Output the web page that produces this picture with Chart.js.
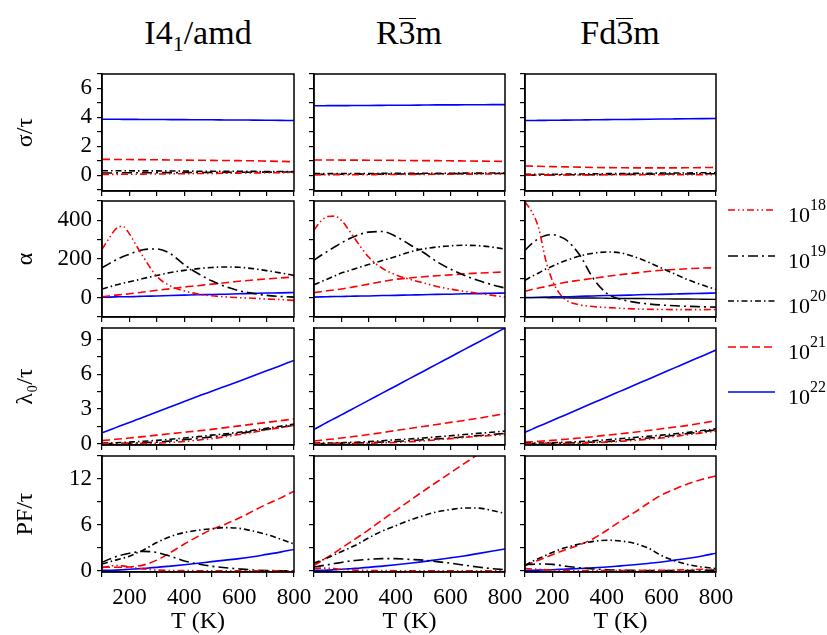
<!DOCTYPE html>
<html>
<head>
<meta charset="utf-8">
<script src="https://cdn.jsdelivr.net/npm/chart.js@4.4.1/dist/chart.umd.min.js"></script>
<style>
  html, body { margin: 0; padding: 0; background: #fff; }
  body {
    width: 827px; height: 635px; position: relative; overflow: hidden;
    font-family: "Liberation Serif", "DejaVu Serif", serif; color: #000;
  }
  canvas.panel { position: absolute; }
  .head {
    position: absolute; top: 16px; width: 240px; margin-left: -120px;
    text-align: center; font-size: 34px; line-height: 34px; white-space: nowrap;
  }
  .head sub { font-size: 22px; position: relative; top: 7px; vertical-align: baseline; }
  .bar { display: inline-block; line-height: 27px; border-top: 1.5px solid #000; }
  .key { position: absolute; left: 728px; height: 0; }
  .key canvas { position: absolute; left: 0; top: -5px; }
  .key span {
    position: absolute; left: 60px; top: -6px; font-size: 22px; line-height: 22px; white-space: nowrap;
  }
  .key sup { font-size: 16px; position: relative; top: -12px; vertical-align: baseline; }
</style>
</head>
<body>
<div class="head" style="left:198px">I4<sub>1</sub>/amd</div>
<div class="head" style="left:409px">R<span class="bar">3</span>m</div>
<div class="head" style="left:620px">Fd<span class="bar">3</span>m</div>

<script>
// temperature grid (K)
const temps = [100, 125, 150, 175, 200, 225, 250, 300, 350, 400, 450, 500, 550, 600, 650, 700, 750, 800];
// carrier concentration exponents, 10^18 ... 10^22 cm^-3
const dopingExp = ['18', '19', '20', '21', '22'];

// sigma/tau, one list per concentration
const sigmaI41 = [
  [0.05, 0.05, 0.05, 0.06, 0.06, 0.06, 0.07, 0.08, 0.09, 0.10, 0.11, 0.12, 0.13, 0.14, 0.15, 0.16, 0.17, 0.18],
  [0.15, 0.15, 0.15, 0.16, 0.16, 0.16, 0.16, 0.17, 0.17, 0.18, 0.18, 0.19, 0.19, 0.20, 0.20, 0.21, 0.21, 0.22],
  [0.30, 0.30, 0.30, 0.30, 0.30, 0.29, 0.29, 0.29, 0.28, 0.28, 0.27, 0.27, 0.27, 0.26, 0.26, 0.25, 0.25, 0.25],
  [1.09, 1.09, 1.08, 1.08, 1.08, 1.07, 1.07, 1.06, 1.05, 1.04, 1.03, 1.02, 1.01, 1.00, 0.99, 0.97, 0.95, 0.93],
  [3.87, 3.87, 3.87, 3.86, 3.86, 3.86, 3.85, 3.85, 3.84, 3.84, 3.83, 3.83, 3.82, 3.82, 3.81, 3.80, 3.79, 3.78]
];
const sigmaR3m = [
  [0.02, 0.02, 0.02, 0.02, 0.03, 0.03, 0.03, 0.03, 0.04, 0.04, 0.05, 0.05, 0.06, 0.06, 0.07, 0.07, 0.08, 0.08],
  [0.05, 0.05, 0.05, 0.06, 0.06, 0.06, 0.06, 0.07, 0.07, 0.08, 0.08, 0.09, 0.09, 0.10, 0.10, 0.11, 0.11, 0.12],
  [0.10, 0.10, 0.10, 0.10, 0.11, 0.11, 0.11, 0.11, 0.12, 0.12, 0.12, 0.13, 0.13, 0.13, 0.14, 0.14, 0.15, 0.15],
  [1.05, 1.05, 1.05, 1.05, 1.04, 1.04, 1.04, 1.03, 1.03, 1.02, 1.01, 1.00, 1.00, 0.99, 0.98, 0.97, 0.96, 0.95],
  [4.80, 4.80, 4.81, 4.81, 4.81, 4.81, 4.82, 4.82, 4.83, 4.84, 4.84, 4.85, 4.86, 4.86, 4.87, 4.87, 4.88, 4.88]
];
const sigmaFd3m = [
  [0.00, 0.00, 0.00, 0.00, 0.01, 0.01, 0.01, 0.01, 0.01, 0.02, 0.02, 0.02, 0.02, 0.02, 0.03, 0.03, 0.03, 0.03],
  [0.00, 0.00, 0.01, 0.01, 0.01, 0.02, 0.02, 0.03, 0.03, 0.04, 0.05, 0.05, 0.06, 0.07, 0.08, 0.08, 0.09, 0.10],
  [0.05, 0.05, 0.05, 0.06, 0.06, 0.06, 0.07, 0.08, 0.09, 0.10, 0.11, 0.12, 0.13, 0.14, 0.15, 0.15, 0.16, 0.17],
  [0.63, 0.62, 0.61, 0.60, 0.59, 0.58, 0.57, 0.55, 0.53, 0.52, 0.51, 0.50, 0.50, 0.50, 0.50, 0.51, 0.52, 0.54],
  [3.78, 3.78, 3.79, 3.79, 3.80, 3.80, 3.81, 3.82, 3.83, 3.84, 3.85, 3.86, 3.87, 3.88, 3.89, 3.90, 3.91, 3.92]
];

// Seebeck coefficient alpha (uV/K)
const alphaI41 = [
  [250, 305, 355, 370, 330, 270, 212, 110, 60, 35, 19, 10, 4, 0, -3, -7, -10, -14],
  [155, 175, 195, 212, 225, 238, 248, 252, 227, 170, 125, 87, 58, 36, 22, 12, 6, 3],
  [45, 55, 65, 74, 82, 90, 99, 115, 130, 141, 150, 156, 159, 157, 150, 140, 128, 115],
  [5, 9, 13, 17, 20, 24, 29, 38, 46, 55, 62, 70, 77, 85, 91, 97, 102, 107],
  [2, 3, 4, 5, 5, 6, 7, 9, 11, 13, 15, 16, 18, 20, 22, 24, 25, 27]
];
const alphaR3m = [
  [350, 395, 420, 422, 400, 355, 305, 210, 152, 118, 95, 77, 58, 44, 33, 23, 13, 3],
  [194, 218, 240, 262, 283, 302, 318, 339, 342, 317, 275, 235, 186, 148, 116, 90, 68, 50],
  [67, 82, 97, 112, 127, 138, 150, 171, 192, 213, 236, 252, 262, 268, 271, 269, 262, 251],
  [26, 31, 36, 40, 45, 51, 57, 70, 83, 95, 102, 108, 113, 118, 123, 127, 130, 133],
  [3, 4, 5, 6, 6, 7, 8, 9, 11, 12, 14, 15, 17, 18, 20, 21, 23, 24]
];
const alphaFd3m = [
  [495, 445, 360, 200, 90, 25, -12, -37, -46, -51, -55, -58, -60, -61, -62, -62, -62, -61],
  [245, 280, 305, 322, 326, 318, 300, 222, 100, 22, -8, -23, -32, -38, -42, -45, -47, -49],
  [90, 110, 128, 147, 163, 178, 192, 215, 230, 236, 232, 212, 185, 153, 122, 91, 65, 42],
  [33, 42, 50, 57, 65, 72, 80, 90, 100, 110, 119, 127, 135, 142, 146, 150, 153, 155],
  [0, 1, 2, 3, 4, 5, 5, 7, 9, 11, 12, 14, 16, 17, 19, 21, 22, 24]
];
// extra solid black trace just under zero in the Fd-3m alpha panel
const alphaFd3mBase = [0, 0, 0, 0, -1, -1, -1, -2, -2, -3, -4, -4, -5, -6, -7, -7, -8, -9];

// electronic thermal conductivity lambda0/tau
const lambdaI41 = [
  [0, 0, 0.01, 0.01, 0.02, 0.03, 0.04, 0.06, 0.12, 0.2, 0.32, 0.45, 0.62, 0.8, 1.0, 1.2, 1.4, 1.6],
  [0.02, 0.03, 0.03, 0.04, 0.05, 0.07, 0.1, 0.15, 0.25, 0.35, 0.47, 0.6, 0.75, 0.9, 1.07, 1.25, 1.42, 1.6],
  [0.05, 0.07, 0.09, 0.12, 0.15, 0.19, 0.22, 0.3, 0.4, 0.5, 0.62, 0.75, 0.87, 1.0, 1.17, 1.35, 1.52, 1.7],
  [0.28, 0.33, 0.39, 0.44, 0.5, 0.56, 0.62, 0.75, 0.88, 1.0, 1.12, 1.25, 1.4, 1.55, 1.7, 1.85, 2.0, 2.15],
  [0.95, 1.17, 1.4, 1.62, 1.85, 2.07, 2.3, 2.75, 3.2, 3.65, 4.1, 4.55, 4.97, 5.4, 5.85, 6.3, 6.75, 7.2]
];
const lambdaR3m = [
  [0, 0, 0.01, 0.01, 0.02, 0.02, 0.03, 0.05, 0.08, 0.12, 0.18, 0.25, 0.35, 0.45, 0.55, 0.65, 0.72, 0.8],
  [0.02, 0.02, 0.03, 0.04, 0.05, 0.06, 0.07, 0.1, 0.15, 0.2, 0.27, 0.35, 0.42, 0.5, 0.6, 0.7, 0.8, 0.9],
  [0.05, 0.06, 0.07, 0.08, 0.1, 0.12, 0.14, 0.2, 0.27, 0.35, 0.42, 0.5, 0.6, 0.7, 0.8, 0.9, 1.0, 1.1],
  [0.25, 0.31, 0.37, 0.43, 0.5, 0.57, 0.65, 0.8, 0.97, 1.15, 1.32, 1.5, 1.67, 1.85, 2.02, 2.2, 2.4, 2.6],
  [1.25, 1.56, 1.88, 2.19, 2.5, 2.81, 3.13, 3.75, 4.38, 5.0, 5.63, 6.25, 6.88, 7.5, 8.13, 8.75, 9.38, 10.0]
];
const lambdaFd3m = [
  [0, 0, 0, 0.01, 0.01, 0.02, 0.03, 0.05, 0.1, 0.15, 0.22, 0.3, 0.4, 0.5, 0.65, 0.8, 0.95, 1.1],
  [0.02, 0.02, 0.03, 0.04, 0.05, 0.06, 0.07, 0.1, 0.15, 0.2, 0.3, 0.4, 0.5, 0.6, 0.75, 0.9, 1.05, 1.2],
  [0.05, 0.06, 0.07, 0.08, 0.1, 0.12, 0.14, 0.2, 0.27, 0.35, 0.45, 0.55, 0.65, 0.75, 0.87, 1.0, 1.15, 1.3],
  [0.15, 0.18, 0.22, 0.26, 0.3, 0.35, 0.4, 0.5, 0.62, 0.75, 0.87, 1.0, 1.15, 1.3, 1.45, 1.6, 1.8, 2.0],
  [1.0, 1.25, 1.51, 1.76, 2.01, 2.27, 2.52, 3.03, 3.54, 4.04, 4.55, 5.06, 5.56, 6.07, 6.58, 7.09, 7.59, 8.1]
];

// power factor PF/tau
const pfI41 = [
  [0.4, 0.6, 0.7, 0.65, 0.5, 0.35, 0.25, 0.1, 0.05, 0.03, 0.02, 0.01, 0, 0, 0, 0, 0, 0],
  [1.1, 1.5, 1.85, 2.1, 2.3, 2.45, 2.55, 2.4, 1.9, 1.3, 0.9, 0.6, 0.4, 0.25, 0.12, 0.05, 0.02, 0],
  [0.9, 1.15, 1.4, 1.65, 1.9, 2.3, 2.7, 3.7, 4.5, 5.0, 5.3, 5.5, 5.65, 5.55, 5.2, 4.75, 4.15, 3.5],
  [0.5, 0.48, 0.47, 0.48, 0.5, 0.6, 0.75, 1.4, 2.4, 3.5, 4.5, 5.4, 6.1, 6.9, 7.8, 8.7, 9.5, 10.4],
  [0.05, 0.08, 0.1, 0.15, 0.2, 0.26, 0.32, 0.45, 0.62, 0.8, 1.0, 1.2, 1.4, 1.6, 1.85, 2.15, 2.45, 2.8]
];
const pfR3m = [
  [0.3, 0.35, 0.35, 0.3, 0.2, 0.15, 0.1, 0.05, 0.03, 0.02, 0.01, 0, 0, 0, 0, 0, 0, 0],
  [0.5, 0.65, 0.8, 0.95, 1.1, 1.25, 1.35, 1.5, 1.6, 1.6, 1.5, 1.4, 1.2, 1.0, 0.75, 0.5, 0.3, 0.15],
  [1.0, 1.35, 1.7, 2.1, 2.5, 2.9, 3.3, 4.3, 5.2, 5.9, 6.6, 7.2, 7.7, 8.0, 8.2, 8.2, 7.9, 7.5],
  [0.7, 1.25, 1.8, 2.35, 2.95, 3.55, 4.15, 5.35, 6.65, 7.9, 9.15, 10.4, 11.6, 12.8, 14.0, 15.2, 16.4, 17.6],
  [0.05, 0.08, 0.1, 0.15, 0.2, 0.26, 0.32, 0.45, 0.62, 0.8, 1.0, 1.2, 1.45, 1.7, 1.95, 2.25, 2.55, 2.85]
];
const pfFd3m = [
  [0.3, 0.25, 0.2, 0.15, 0.1, 0.08, 0.06, 0.05, 0.04, 0.04, 0.05, 0.05, 0.06, 0.08, 0.1, 0.15, 0.2, 0.2],
  [0.8, 0.85, 0.9, 0.9, 0.85, 0.75, 0.6, 0.4, 0.25, 0.15, 0.1, 0.06, 0.04, 0.03, 0.03, 0.05, 0.08, 0.1],
  [0.7, 1.2, 1.6, 2.0, 2.4, 2.75, 3.05, 3.5, 3.85, 4.0, 3.9, 3.6, 3.0, 2.0, 1.3, 0.8, 0.5, 0.3],
  [0.7, 1.05, 1.4, 1.75, 2.1, 2.45, 2.8, 3.4, 4.2, 5.3, 6.5, 7.6, 8.8, 9.9, 10.7, 11.4, 11.95, 12.4],
  [0.05, 0.07, 0.09, 0.12, 0.15, 0.19, 0.22, 0.3, 0.4, 0.5, 0.65, 0.8, 0.97, 1.15, 1.4, 1.65, 1.95, 2.3]
];

// line style per concentration
const lineStyles = [
  { color: 'rgb(255,0,0)', dash: [7, 3, 1.5, 3, 1.5, 3] },
  { color: 'rgb(0,0,0)', dash: [10, 4, 2, 4] },
  { color: 'rgb(0,0,0)', dash: [6, 3, 1.5, 3] },
  { color: 'rgb(255,0,0)', dash: [8, 4] },
  { color: 'rgb(0,0,255)', dash: [] }
];

const rows = [
  { title: 'σ/τ', min: -1.1, max: 7, step: 1, major: 2, data: [sigmaI41, sigmaR3m, sigmaFd3m] },
  { title: 'α', min: -100, max: 500, step: 100, major: 200, data: [alphaI41, alphaR3m, alphaFd3m] },
  { title: 'λ₀/τ', min: -0.1, max: 10, step: 1.5, major: 3, data: [lambdaI41, lambdaR3m, lambdaFd3m] },
  { title: 'PF/τ', min: -0.15, max: 15, step: 3, major: 6, data: [pfI41, pfR3m, pfFd3m] }
];

// plot-area edges of the 4x3 grid
const colLeft = [102, 314, 525], colRight = [294, 505, 716];
const rowTop = [74, 201, 328, 456], rowBottom = [191, 317, 445, 572];

const FAMILY = "'Liberation Serif', 'DejaVu Serif', serif";
Chart.defaults.font.family = FAMILY;
Chart.defaults.color = '#000';

const isMajor = (v, m) => Math.abs(v / m - Math.round(v / m)) < 1e-6;

// closed box around each panel
const frame = {
  id: 'frame',
  afterDatasetsDraw(chart) {
    const { ctx, chartArea: a } = chart;
    ctx.save();
    ctx.strokeStyle = '#000';
    ctx.lineWidth = 1.5;
    ctx.strokeRect(a.left, a.top, a.right - a.left, a.bottom - a.top);
    ctx.restore();
  }
};

const toPoints = vals => temps.map((t, i) => ({ x: t, y: vals[i] }));

rows.forEach((row, r) => {
  colLeft.forEach((left, c) => {
    const x0 = c === 0 ? 0 : left - 14;
    const y0 = rowTop[r] - 8;
    const x1 = colRight[c] + 24;
    const y1 = r === 3 ? 635 : rowBottom[r] + 8;
    const padL = left - x0, padB = y1 - rowBottom[r];

    const cv = document.createElement('canvas');
    cv.className = 'panel';
    cv.width = x1 - x0;
    cv.height = y1 - y0;
    cv.style.left = x0 + 'px';
    cv.style.top = y0 + 'px';
    document.body.appendChild(cv);

    const datasets = row.data[c].map((vals, k) => ({
      label: '10^' + dopingExp[k],
      data: toPoints(vals),
      borderColor: lineStyles[k].color,
      borderDash: lineStyles[k].dash,
      borderWidth: 1.6,
      pointRadius: 0,
      cubicInterpolationMode: 'monotone',
      fill: false
    }));
    if (r === 1 && c === 2) {
      datasets.unshift({
        label: 'base', data: toPoints(alphaFd3mBase), borderColor: '#000',
        borderWidth: 1.4, pointRadius: 0, cubicInterpolationMode: 'monotone', fill: false
      });
    }

    new Chart(cv, {
      type: 'line',
      data: { datasets },
      options: {
        responsive: false,
        animation: false,
        devicePixelRatio: 1,
        layout: { padding: { top: 8, right: 24, left: 0, bottom: 0 } },
        plugins: { legend: { display: false }, tooltip: { enabled: false } },
        scales: {
          x: {
            type: 'linear', min: 100, max: 800,
            afterFit(s) { s.height = padB; s.paddingLeft = 0; s.paddingRight = 0; },
            ticks: {
              stepSize: 100, includeBounds: false, display: r === 3, autoSkip: false, maxRotation: 0,
              font: { size: 23 }, color: '#000', padding: 7,
              callback: v => (v % 200 === 0 ? String(v) : '')
            },
            grid: { drawOnChartArea: false, drawTicks: true, tickLength: 5, color: '#000', lineWidth: 1.2 },
            border: { display: true, color: '#000', width: 1.5 },
            title: {
              display: r === 3, text: 'T (K)', color: '#000',
              font: { size: 24, lineHeight: 1 }, padding: { top: 0, bottom: 1 }
            }
          },
          y: {
            min: row.min, max: row.max,
            afterFit(s) { s.width = padL; s.paddingTop = 0; s.paddingBottom = 0; },
            ticks: {
              stepSize: row.step, includeBounds: false, display: c === 0, autoSkip: false,
              font: { size: 23 }, color: '#000', padding: 5,
              callback: v => (isMajor(v, row.major) ? String(v) : '')
            },
            grid: { drawOnChartArea: false, drawTicks: true, tickLength: 5, color: '#000', lineWidth: 1.2 },
            border: { display: true, color: '#000', width: 1.5 },
            title: {
              display: c === 0, text: row.title, color: '#000',
              font: { size: 24, lineHeight: 1.2 }, padding: { top: 11, bottom: 0 }
            }
          }
        }
      },
      plugins: [frame]
    });
  });
});

// legend: one short line sample plus 10^n per concentration
const keyY = [210, 255.5, 301, 346.5, 392];
dopingExp.forEach((exp, k) => {
  const row = document.createElement('div');
  row.className = 'key';
  row.style.top = keyY[k] + 'px';
  const sw = document.createElement('canvas');
  sw.width = 47; sw.height = 10;
  const g = sw.getContext('2d');
  g.strokeStyle = lineStyles[k].color;
  g.lineWidth = 1.6;
  g.setLineDash(lineStyles[k].dash);
  g.beginPath(); g.moveTo(0, 5); g.lineTo(47, 5); g.stroke();
  const txt = document.createElement('span');
  txt.innerHTML = '10<sup>' + exp + '</sup>';
  row.appendChild(sw);
  row.appendChild(txt);
  document.body.appendChild(row);
});
</script>
</body>
</html>
